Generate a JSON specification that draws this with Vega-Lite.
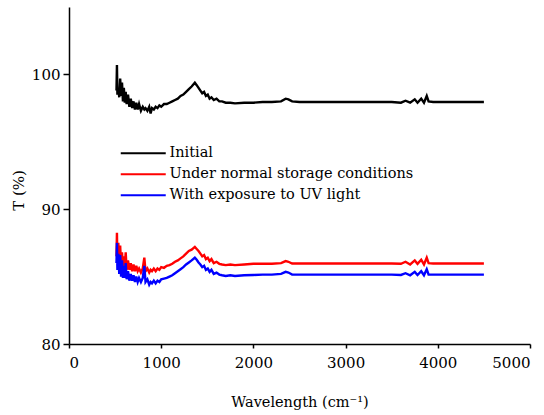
{
  "$schema": "https://vega.github.io/schema/vega-lite/v6.json",
  "width": 461,
  "height": 337,
  "autosize": {"type": "none"},
  "padding": {"left": 69, "top": 7, "right": 14, "bottom": 71},
  "data": {
    "values": [
      {"x": 515, "Initial": 98.8, "Under normal storage conditions": 86.5, "With exposure to UV light": 86.0},
      {"x": 520, "Initial": 100.7, "Under normal storage conditions": 88.25, "With exposure to UV light": 87.5},
      {"x": 525, "Initial": 98.5, "Under normal storage conditions": 86.0, "With exposure to UV light": 85.5},
      {"x": 535, "Initial": 99.0, "Under normal storage conditions": 87.5, "With exposure to UV light": 86.7},
      {"x": 545, "Initial": 98.3, "Under normal storage conditions": 86.0, "With exposure to UV light": 85.2},
      {"x": 555, "Initial": 99.7, "Under normal storage conditions": 87.3, "With exposure to UV light": 86.6},
      {"x": 565, "Initial": 98.4, "Under normal storage conditions": 85.8, "With exposure to UV light": 85.0},
      {"x": 575, "Initial": 99.4, "Under normal storage conditions": 86.8, "With exposure to UV light": 86.2},
      {"x": 585, "Initial": 98.0, "Under normal storage conditions": 85.7, "With exposure to UV light": 84.9},
      {"x": 595, "Initial": 99.0, "Under normal storage conditions": 86.5, "With exposure to UV light": 85.8},
      {"x": 605, "Initial": 97.9, "Under normal storage conditions": 85.6, "With exposure to UV light": 84.9},
      {"x": 615, "Initial": 98.7, "Under normal storage conditions": 86.8, "With exposure to UV light": 86.0},
      {"x": 625, "Initial": 97.8, "Under normal storage conditions": 85.5, "With exposure to UV light": 84.8},
      {"x": 640, "Initial": 98.5, "Under normal storage conditions": 86.2, "With exposure to UV light": 85.4},
      {"x": 655, "Initial": 97.6, "Under normal storage conditions": 85.5, "With exposure to UV light": 84.7},
      {"x": 670, "Initial": 98.2, "Under normal storage conditions": 86.0, "With exposure to UV light": 85.2},
      {"x": 685, "Initial": 97.5, "Under normal storage conditions": 85.4, "With exposure to UV light": 84.7},
      {"x": 700, "Initial": 98.0, "Under normal storage conditions": 85.9, "With exposure to UV light": 85.1},
      {"x": 715, "Initial": 97.4, "Under normal storage conditions": 85.4, "With exposure to UV light": 84.6},
      {"x": 730, "Initial": 97.9, "Under normal storage conditions": 85.8, "With exposure to UV light": 85.0},
      {"x": 745, "Initial": 97.4, "Under normal storage conditions": 85.4, "With exposure to UV light": 84.6},
      {"x": 760, "Initial": 97.8, "Under normal storage conditions": 85.6, "With exposure to UV light": 84.9},
      {"x": 780, "Initial": 97.3, "Under normal storage conditions": 85.3, "With exposure to UV light": 84.6},
      {"x": 800, "Initial": 97.6, "Under normal storage conditions": 85.6, "With exposure to UV light": 84.9},
      {"x": 817, "Initial": 97.4, "Under normal storage conditions": 86.4, "With exposure to UV light": 85.8},
      {"x": 830, "Initial": 97.5, "Under normal storage conditions": 85.4, "With exposure to UV light": 84.6},
      {"x": 850, "Initial": 97.3, "Under normal storage conditions": 85.6, "With exposure to UV light": 84.8},
      {"x": 870, "Initial": 97.6, "Under normal storage conditions": 85.3, "With exposure to UV light": 84.4},
      {"x": 885, "Initial": 97.1, "Under normal storage conditions": 85.5, "With exposure to UV light": 84.6},
      {"x": 900, "Initial": 97.5, "Under normal storage conditions": 85.4, "With exposure to UV light": 84.5},
      {"x": 920, "Initial": 97.4, "Under normal storage conditions": 85.6, "With exposure to UV light": 84.7},
      {"x": 940, "Initial": 97.6, "Under normal storage conditions": 85.4, "With exposure to UV light": 84.5},
      {"x": 960, "Initial": 97.5, "Under normal storage conditions": 85.6, "With exposure to UV light": 84.7},
      {"x": 980, "Initial": 97.7, "Under normal storage conditions": 85.5, "With exposure to UV light": 84.6},
      {"x": 1000, "Initial": 97.6, "Under normal storage conditions": 85.7, "With exposure to UV light": 84.8},
      {"x": 1030, "Initial": 97.8, "Under normal storage conditions": 85.65, "With exposure to UV light": 84.85},
      {"x": 1060, "Initial": 97.8, "Under normal storage conditions": 85.8, "With exposure to UV light": 84.9},
      {"x": 1090, "Initial": 97.9, "Under normal storage conditions": 85.85, "With exposure to UV light": 85.0},
      {"x": 1120, "Initial": 98.0, "Under normal storage conditions": 85.95, "With exposure to UV light": 85.1},
      {"x": 1150, "Initial": 98.1, "Under normal storage conditions": 86.1, "With exposure to UV light": 85.25},
      {"x": 1180, "Initial": 98.2, "Under normal storage conditions": 86.2, "With exposure to UV light": 85.4},
      {"x": 1210, "Initial": 98.4, "Under normal storage conditions": 86.35, "With exposure to UV light": 85.55},
      {"x": 1240, "Initial": 98.5, "Under normal storage conditions": 86.5, "With exposure to UV light": 85.7},
      {"x": 1270, "Initial": 98.7, "Under normal storage conditions": 86.7, "With exposure to UV light": 85.9},
      {"x": 1300, "Initial": 98.9, "Under normal storage conditions": 86.9, "With exposure to UV light": 86.05},
      {"x": 1330, "Initial": 99.1, "Under normal storage conditions": 87.0, "With exposure to UV light": 86.2},
      {"x": 1365, "Initial": 99.38, "Under normal storage conditions": 87.2, "With exposure to UV light": 86.4},
      {"x": 1385, "Initial": 99.2, "Under normal storage conditions": 87.05, "With exposure to UV light": 86.25},
      {"x": 1405, "Initial": 99.0, "Under normal storage conditions": 86.9, "With exposure to UV light": 86.05},
      {"x": 1425, "Initial": 98.8, "Under normal storage conditions": 86.7, "With exposure to UV light": 85.9},
      {"x": 1445, "Initial": 98.6, "Under normal storage conditions": 86.5, "With exposure to UV light": 85.7},
      {"x": 1465, "Initial": 98.7, "Under normal storage conditions": 86.6, "With exposure to UV light": 85.8},
      {"x": 1485, "Initial": 98.4, "Under normal storage conditions": 86.3, "With exposure to UV light": 85.5},
      {"x": 1505, "Initial": 98.5, "Under normal storage conditions": 86.4, "With exposure to UV light": 85.6},
      {"x": 1525, "Initial": 98.2, "Under normal storage conditions": 86.15, "With exposure to UV light": 85.35},
      {"x": 1545, "Initial": 98.3, "Under normal storage conditions": 86.3, "With exposure to UV light": 85.5},
      {"x": 1570, "Initial": 98.1, "Under normal storage conditions": 86.0, "With exposure to UV light": 85.2},
      {"x": 1600, "Initial": 98.2, "Under normal storage conditions": 86.1, "With exposure to UV light": 85.3},
      {"x": 1630, "Initial": 98.0, "Under normal storage conditions": 85.95, "With exposure to UV light": 85.15},
      {"x": 1660, "Initial": 98.0, "Under normal storage conditions": 85.9, "With exposure to UV light": 85.1},
      {"x": 1700, "Initial": 97.9, "Under normal storage conditions": 85.85, "With exposure to UV light": 85.05},
      {"x": 1750, "Initial": 97.9, "Under normal storage conditions": 85.9, "With exposure to UV light": 85.1},
      {"x": 1800, "Initial": 97.85, "Under normal storage conditions": 85.85, "With exposure to UV light": 85.05},
      {"x": 1900, "Initial": 97.9, "Under normal storage conditions": 85.9, "With exposure to UV light": 85.1},
      {"x": 2000, "Initial": 97.9, "Under normal storage conditions": 85.95, "With exposure to UV light": 85.12},
      {"x": 2100, "Initial": 97.95, "Under normal storage conditions": 85.95, "With exposure to UV light": 85.15},
      {"x": 2200, "Initial": 97.95, "Under normal storage conditions": 85.95, "With exposure to UV light": 85.15},
      {"x": 2300, "Initial": 98.0, "Under normal storage conditions": 86.0, "With exposure to UV light": 85.2},
      {"x": 2350, "Initial": 98.2, "Under normal storage conditions": 86.15, "With exposure to UV light": 85.35},
      {"x": 2380, "Initial": 98.15, "Under normal storage conditions": 86.1, "With exposure to UV light": 85.3},
      {"x": 2420, "Initial": 98.0, "Under normal storage conditions": 85.97, "With exposure to UV light": 85.15},
      {"x": 2500, "Initial": 97.95, "Under normal storage conditions": 85.97, "With exposure to UV light": 85.15},
      {"x": 2700, "Initial": 97.95, "Under normal storage conditions": 85.97, "With exposure to UV light": 85.15},
      {"x": 2900, "Initial": 97.95, "Under normal storage conditions": 85.97, "With exposure to UV light": 85.15},
      {"x": 3100, "Initial": 97.95, "Under normal storage conditions": 85.97, "With exposure to UV light": 85.15},
      {"x": 3300, "Initial": 97.95, "Under normal storage conditions": 85.97, "With exposure to UV light": 85.15},
      {"x": 3500, "Initial": 97.95, "Under normal storage conditions": 85.97, "With exposure to UV light": 85.15},
      {"x": 3600, "Initial": 97.9, "Under normal storage conditions": 85.95, "With exposure to UV light": 85.12},
      {"x": 3650, "Initial": 98.05, "Under normal storage conditions": 86.1, "With exposure to UV light": 85.25},
      {"x": 3700, "Initial": 97.9, "Under normal storage conditions": 85.9, "With exposure to UV light": 85.1},
      {"x": 3750, "Initial": 98.15, "Under normal storage conditions": 86.2, "With exposure to UV light": 85.35},
      {"x": 3780, "Initial": 97.9, "Under normal storage conditions": 85.95, "With exposure to UV light": 85.12},
      {"x": 3820, "Initial": 98.2, "Under normal storage conditions": 86.25, "With exposure to UV light": 85.4},
      {"x": 3850, "Initial": 97.9, "Under normal storage conditions": 85.9, "With exposure to UV light": 85.1},
      {"x": 3880, "Initial": 98.4, "Under normal storage conditions": 86.4, "With exposure to UV light": 85.55},
      {"x": 3900, "Initial": 98.0, "Under normal storage conditions": 86.0, "With exposure to UV light": 85.15},
      {"x": 3950, "Initial": 97.95, "Under normal storage conditions": 85.97, "With exposure to UV light": 85.15},
      {"x": 4100, "Initial": 97.95, "Under normal storage conditions": 85.97, "With exposure to UV light": 85.15},
      {"x": 4300, "Initial": 97.95, "Under normal storage conditions": 85.97, "With exposure to UV light": 85.15},
      {"x": 4500, "Initial": 97.95, "Under normal storage conditions": 85.97, "With exposure to UV light": 85.15}
    ]
  },
  "transform": [
    {"fold": ["Initial", "Under normal storage conditions", "With exposure to UV light"], "as": ["series", "T"]}
  ],
  "mark": {"type": "line", "strokeWidth": 2.4},
  "encoding": {
    "x": {
      "field": "x",
      "type": "quantitative",
      "scale": {"domain": [0, 5000], "nice": false},
      "axis": {
        "values": [0, 1000, 2000, 3000, 4000, 5000],
        "format": "d",
        "title": "Wavelength (cm⁻¹)",
        "titleFontSize": 14.5,
        "titleY": 58,
        "titleBaseline": "middle",
        "labelPadding": 7,
        "tickSize": 4
      }
    },
    "y": {
      "field": "T",
      "type": "quantitative",
      "scale": {"domain": [80, 105], "nice": false, "zero": false},
      "axis": {
        "values": [80, 90, 100],
        "format": "d",
        "title": "T (%)",
        "titleX": -51,
        "titleY": 183,
        "titleAngle": -90,
        "titleAlign": "center",
        "titleBaseline": "middle",
        "labelPadding": 3,
        "tickSize": 6
      }
    },
    "color": {
      "field": "series",
      "type": "nominal",
      "scale": {
        "domain": ["Initial", "Under normal storage conditions", "With exposure to UV light"],
        "range": ["#000000", "#ff0000", "#0000ff"]
      },
      "legend": {
        "orient": "none",
        "legendX": 67,
        "legendY": 139,
        "title": null,
        "padding": 0,
        "symbolType": "M-4.5,0L4.5,0",
        "symbolSize": 100,
        "symbolStrokeWidth": 2,
        "labelOffset": 19,
        "rowPadding": 6,
        "labelFontSize": 14.5,
        "labelFont": "DejaVu Serif",
        "labelColor": "#000000",
        "labelLimit": 400
      }
    }
  },
  "config": {
    "font": "DejaVu Serif",
    "view": {"stroke": null},
    "axis": {
      "grid": false,
      "domainColor": "#000000",
      "domainWidth": 1.5,
      "tickColor": "#000000",
      "tickWidth": 1.5,
      "labelFont": "DejaVu Serif",
      "labelFontSize": 15,
      "labelColor": "#000000",
      "titleFont": "DejaVu Serif",
      "titleFontSize": 15,
      "titleFontWeight": "normal",
      "titleColor": "#000000"
    }
  }
}
